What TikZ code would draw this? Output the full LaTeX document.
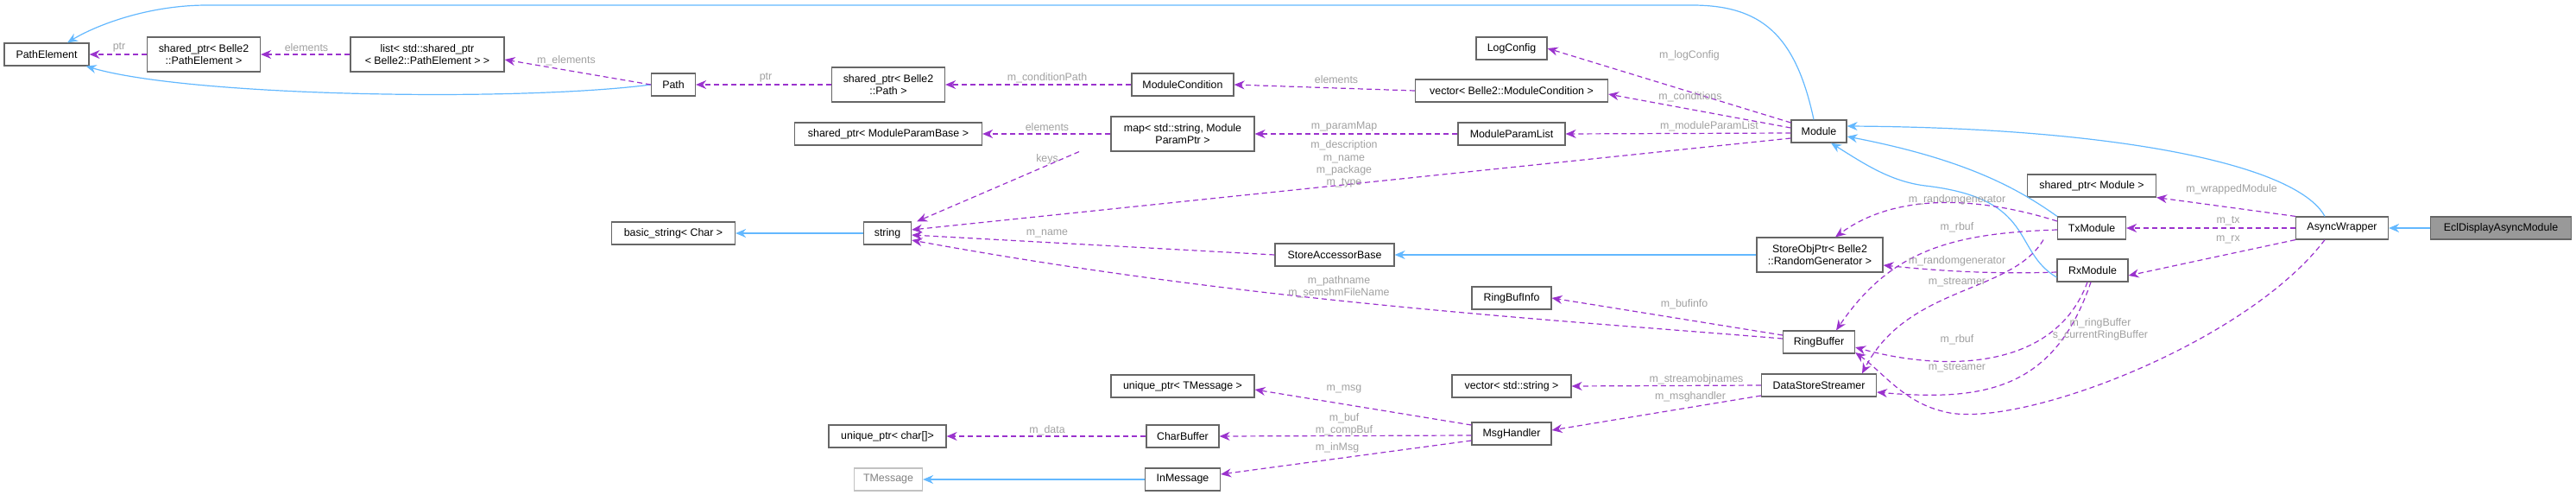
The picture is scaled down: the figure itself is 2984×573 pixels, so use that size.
\documentclass[tikz,border=0pt]{standalone}
\usepackage{fontspec}
\setmainfont{Liberation Sans}
\usetikzlibrary{arrows.meta}
\definecolor{inhc}{HTML}{63B8FF}
\definecolor{usec}{HTML}{9A32CD}
\definecolor{labc}{HTML}{A0A0A0}
\definecolor{brd}{HTML}{666666}
\begin{document}
\begin{tikzpicture}[x=0.5pt,y=-0.5pt,
  box/.style={draw=brd, fill=white, line width=0.6pt, inner sep=0pt, align=center, font=\fontsize{6.2}{7.2}\selectfont, minimum width=#1, minimum height=13pt},
  box2/.style={box=#1, minimum height=20pt},
  lab/.style={text=labc, font=\fontsize{6.2}{7.2}\selectfont, align=center, inner sep=0pt},
  inh/.style={draw=inhc, line width=0.6pt, -{Stealth[length=6pt,width=5pt]}},
  use/.style={draw=usec, line width=0.6pt, dash pattern=on 3pt off 2pt, -{Stealth[length=6pt,width=5pt]}}]
\useasboundingbox (0,0) rectangle (2984,573);
% nodes
\node[box=49pt] (pe) at (54,63) {PathElement};
\node[box2=65.5pt] (spe) at (236,63) {shared\_ptr< Belle2\\::PathElement >};
\node[box2=89pt] (lst) at (495,63) {list< std::shared\_ptr\\< Belle2::PathElement > >};
\node[box=25.5pt] (path) at (780,98) {Path};
\node[box2=65.5pt] (spp) at (1029,98) {shared\_ptr< Belle2\\::Path >};
\node[box=71.5pt] (bs) at (780,270) {basic\_string< Char >};
\node[box=108.5pt] (spmpb) at (1029,155) {shared\_ptr< ModuleParamBase >};
\node[box=41pt] (logc) at (1751,56) {LogConfig};
\node[box=59pt] (mc) at (1370,98) {ModuleCondition};
\node[box=111.5pt] (vmc) at (1751,105) {vector< Belle2::ModuleCondition >};
\node[box2=83pt] (map) at (1370,155) {map< std::string, Module\\ParamPtr >};
\node[box=62pt] (mpl) at (1751,155) {ModuleParamList};
\node[box=27.5pt] (str) at (1028,270) {string};
\node[box=69pt] (sab) at (1546,295) {StoreAccessorBase};
\node[box=32pt] (mod) at (2107,152) {Module};
\node[box=74.5pt] (spm) at (2423,215) {shared\_ptr< Module >};
\node[box=39.5pt] (tx) at (2423,264) {TxModule};
\node[box=53.5pt] (aw) at (2713,264) {AsyncWrapper};
\node[box=81.5pt, fill=gray!80] (ecl) at (2897,264) {EclDisplayAsyncModule};
\node[box2=73pt] (sop) at (2108,295) {StoreObjPtr< Belle2\\::RandomGenerator >};
\node[box=41pt] (rx) at (2424,313) {RxModule};
\node[box=41.5pt] (rb) at (2107,396) {RingBuffer};
\node[box=66.5pt] (dss) at (2107,446) {DataStoreStreamer};
\node[box=46pt] (rbi) at (1751,345) {RingBufInfo};
\node[box=83pt] (upt) at (1370,447) {unique\_ptr< TMessage >};
\node[box=69pt] (vs) at (1751,447) {vector< std::string >};
\node[box=46pt] (mh) at (1751,502) {MsgHandler};
\node[box=42pt] (cb) at (1370,505) {CharBuffer};
\node[box=68pt] (upc) at (1028,505) {unique\_ptr< char[]>};
\node[box=43.5pt] (inm) at (1370,555) {InMessage};
\node[box=39.5pt, draw=brd!40, text=gray] (tm) at (1029,555) {TMessage};
% inheritance
\draw[inh] ([xshift=-3pt]mod.north) .. controls (2080,40) and (2040,6) .. (1960,6) -- (240,6) .. controls (170,6) and (110,30) .. ([xshift=12pt]pe.north);
\draw[inh] (path.west) .. controls (600,118) and (220,112) .. ([xshift=-2pt]pe.south east);
\draw[inh] (str) -- (bs);
\draw[inh] (sop) -- (sab);
\draw[inh] (inm) -- (tm);
\draw[inh] (ecl) -- (aw);
\draw[inh] ([xshift=-10pt]aw.north) .. controls (2660,190) and (2450,148) .. ([yshift=3pt]mod.east);
\draw[inh] (tx.north west) .. controls (2340,220) and (2280,185) .. ([yshift=-3pt]mod.east);
\draw[inh] ([yshift=-4pt]rx.west) .. controls (2330,290) and (2360,230) .. (2230,215) .. controls (2190,210) and (2160,190) .. ([xshift=7pt]mod.south);
% usage
\draw[use] (spe) -- (pe);
\draw[use] (lst) -- (spe);
\draw[use] (path.west) -- ([yshift=-3pt]lst.east);
\draw[use] (spp) -- (path);
\draw[use] (mc) -- (spp);
\draw[use] (vmc.west) -- (mc.east);
\draw[use] ([yshift=5pt]mod.west) -- (logc.east);
\draw[use] ([yshift=2pt]mod.west) -- ([yshift=-2pt]vmc.east);
\draw[use] ([yshift=-1pt]mod.west) -- (mpl.east);
\draw[use] (mpl) -- (map);
\draw[use] (map) -- (spmpb);
\draw[use] ([xshift=-60pt]map.south) -- ([xshift=3pt]str.north east);
\draw[use] ([yshift=-4pt]mod.west) -- ([yshift=2pt]str.east);
\draw[use] (sab.west) -- ([yshift=-1pt]str.east);
\draw[use] ([yshift=2pt]rb.west) .. controls (1800,370) and (1450,350) .. ([yshift=-4pt]str.east);
\draw[use] ([yshift=4pt]rb.west) -- (rbi.east);
\draw[use] ([yshift=4pt]tx.west) .. controls (2300,230) and (2200,220) .. ([xshift=9pt]sop.north);
\draw[use] ([yshift=-1pt]tx.west) .. controls (2260,270) and (2190,290) .. ([xshift=10pt]rb.north);
\draw[use] ([xshift=-28pt]tx.south) .. controls (2330,340) and (2210,330) .. ([xshift=25pt]dss.north);
\draw[use] ([yshift=-1pt]rx.west) .. controls (2300,318) and (2230,312) .. ([yshift=-6pt]sop.east);
\draw[use] ([xshift=-3pt]rx.south) .. controls (2380,430) and (2250,430) .. ([yshift=-3pt]rb.east);
\draw[use] ([xshift=-1pt]rx.south) .. controls (2380,450) and (2300,465) .. ([yshift=-4pt]dss.east);
\draw[use] ([xshift=-10pt]aw.south) .. controls (2600,400) and (2330,500) .. (2250,476) .. controls (2205,465) and (2180,430) .. ([yshift=-6pt]rb.east);
\draw[use] (aw.north west) -- (spm.south east);
\draw[use] (aw) -- (tx);
\draw[use] (aw.south west) -- ([yshift=-3pt]rx.east);
\draw[use] (dss.west) -- (vs.east);
\draw[use] ([yshift=-6pt]dss.west) -- ([yshift=2pt]mh.east);
\draw[use] ([yshift=5pt]mh.west) -- ([yshift=-2pt]upt.east);
\draw[use] ([yshift=-1pt]mh.west) -- (cb.east);
\draw[use] ([yshift=-4pt]mh.west) -- ([yshift=3pt]inm.east);
\draw[use] (cb) -- (upc);
% labels
\node[lab] (l1) at (138,55) {ptr};
\node[lab] (l2) at (355,55) {elements};
\node[lab] (l3) at (656,70) {m\_elements};
\node[lab] (l4) at (887,90) {ptr};
\node[lab] (l5) at (1213,90) {m\_conditionPath};
\node[lab] (l6) at (1548,92) {elements};
\node[lab] (l7) at (1957,64) {m\_logConfig};
\node[lab] (l8) at (1958,112) {m\_conditions};
\node[lab] (l9) at (1980,146) {m\_moduleParamList};
\node[lab] (l10) at (1213,147) {elements};
\node[lab] (l11) at (1557,147) {m\_paramMap};
\node[lab] (l12) at (1557,190) {m\_description\\m\_name\\m\_package\\m\_type};
\node[lab] (l13) at (1213,184) {keys};
\node[lab] (l14) at (1213,270) {m\_name};
\node[lab] (l15) at (1551,332) {m\_pathname\\m\_semshmFileName};
\node[lab] (l16) at (1951,352) {m\_bufinfo};
\node[lab] (l17) at (2585,219) {m\_wrappedModule};
\node[lab] (l18) at (2581,256) {m\_tx};
\node[lab] (l19) at (2581,277) {m\_rx};
\node[lab] (l20) at (2267,231) {m\_randomgenerator};
\node[lab] (l21) at (2267,263) {m\_rbuf};
\node[lab] (l22) at (2267,302) {m\_randomgenerator};
\node[lab] (l23) at (2267,327) {m\_streamer};
\node[lab] (l24) at (2433,381) {m\_ringBuffer\\s\_currentRingBuffer};
\node[lab] (l25) at (2267,393) {m\_rbuf};
\node[lab] (l26) at (2267,426) {m\_streamer};
\node[lab] (l27) at (1965,439) {m\_streamobjnames};
\node[lab] (l28) at (1958,459) {m\_msghandler};
\node[lab] (l29) at (1557,450) {m\_msg};
\node[lab] (l30) at (1557,491) {m\_buf\\m\_compBuf};
\node[lab] (l31) at (1549,518) {m\_inMsg};
\node[lab] (l32) at (1213,498) {m\_data};
\end{tikzpicture}
\end{document}
